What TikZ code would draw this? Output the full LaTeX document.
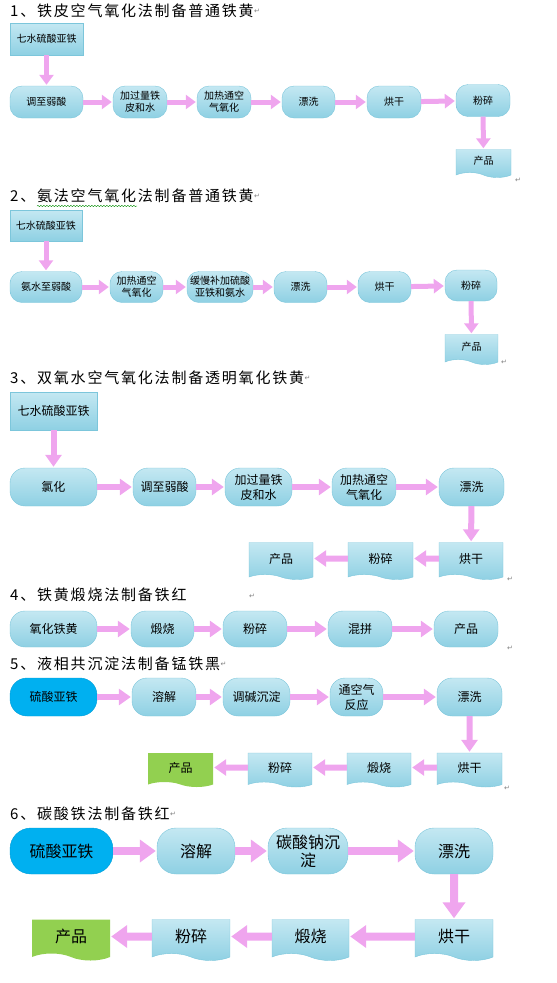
\documentclass[tikz,border=0pt]{standalone}
\usepackage{fontspec}
\newfontfamily\cjk{Noto Sans CJK SC}
\newfontfamily\cjktitle[LetterSpace=12]{Noto Sans CJK SC}
\newfontfamily\symfont{DejaVu Sans}
\usetikzlibrary{arrows.meta,shapes.symbols,decorations.pathmorphing}
\definecolor{boxtop}{HTML}{C4E8F2}
\definecolor{boxbot}{HTML}{8ED0E3}
\definecolor{boxline}{HTML}{7CC6DB}
\definecolor{rawblue}{HTML}{00B0F0}
\definecolor{prodgreen}{HTML}{92D050}
\definecolor{flowpink}{HTML}{EFA5EE}
\tikzset{
  shaded/.style={draw=boxline, top color=boxtop, bottom color=boxbot},
  proc/.style={shaded, rounded corners=12pt, inner sep=0pt, align=center},
  feed/.style={fill=rawblue, draw=rawblue!90!black, rounded corners=12pt, inner sep=0pt, align=center},
  rawbox/.style={shaded, inner sep=0pt, align=center},
  docbox/.style={tape, tape bend top=none, tape bend bottom=out and in, tape bend height=5pt, shaded, inner sep=0pt, align=center},
  prodbox/.style={tape, tape bend top=none, tape bend bottom=out and in, tape bend height=5pt, fill=prodgreen, inner sep=0pt, align=center},
  flow/.style={draw=flowpink, line width=5pt, -{Triangle[width=14pt,length=10pt]}, shorten >=1pt},
  heading/.style={anchor=west, inner sep=0pt, font=\cjktitle\fontsize{15}{18}\selectfont},
  pmark/.style={inner sep=0pt, text=gray, font=\symfont\fontsize{7}{8}\selectfont}
}
\begin{document}
\begin{tikzpicture}[x=1pt,y=-1pt]
\useasboundingbox (0,0) rectangle (557,983);

% 1
\node[heading] (t1) at (10,11) {1、铁皮空气氧化法制备普通铁黄};
\node[pmark, anchor=west] (p1) at (t1.east) {↵};
\begin{scope}[font=\cjk\fontsize{10}{12}\selectfont, nodes={minimum height=32pt}]
\node[rawbox, minimum width=73pt] (s1raw) at (46.5,39) {七水硫酸亚铁};
\node[proc, minimum width=73pt] (s1a) at (46.5,102) {调至弱酸};
\node[proc, minimum width=54pt] (s1b) at (140,102) {加过量铁\\皮和水};
\node[proc, minimum width=54pt] (s1c) at (224,102) {加热通空\\气氧化};
\node[proc, minimum width=53pt] (s1d) at (308.5,102) {漂洗};
\node[proc, minimum width=54pt] (s1e) at (394,102) {烘干};
\node[proc, minimum width=54pt] (s1f) at (483,100.5) {粉碎};
\node[docbox, minimum width=55pt, minimum height=28pt] (s1g) at (483.5,161) {产品};
\draw[flow] (s1raw) -- (s1a);
\draw[flow] (s1a) -- (s1b);
\draw[flow] (s1b) -- (s1c);
\draw[flow] (s1c) -- (s1d);
\draw[flow] (s1d) -- (s1e);
\draw[flow] (s1e) -- (s1f);
\draw[flow] (s1f) -- (s1g);
\end{scope}
\node[pmark] (p1b) at (518,180) {↵};

% 2
\node[heading] (t2) at (10,196) {2、氨法空气氧化法制备普通铁黄};
\node[pmark, anchor=west] (p2) at (t2.east) {↵};
\draw[green!55!black, decorate, decoration={snake, amplitude=0.7pt, segment length=3pt}] (37,206) -- (137,206);
\begin{scope}[font=\cjk\fontsize{10}{12}\selectfont, nodes={minimum height=31pt}]
\node[rawbox, minimum width=72pt] (s2raw) at (46,225.5) {七水硫酸亚铁};
\node[proc, minimum width=72pt] (s2a) at (46,287) {氨水至弱酸};
\node[proc, minimum width=53pt] (s2b) at (136.5,287) {加热通空\\气氧化};
\node[proc, minimum width=66pt] (s2c) at (220,287) {缓慢补加硫酸\\亚铁和氨水};
\node[proc, minimum width=53pt] (s2d) at (300.5,287) {漂洗};
\node[proc, minimum width=53pt] (s2e) at (384.5,287) {烘干};
\node[proc, minimum width=52pt] (s2f) at (471,285.5) {粉碎};
\node[docbox, minimum width=53pt, minimum height=30pt] (s2g) at (471.5,347) {产品};
\draw[flow] (s2raw) -- (s2a);
\draw[flow] (s2a) -- (s2b);
\draw[flow] (s2b) -- (s2c);
\draw[flow] (s2c) -- (s2d);
\draw[flow] (s2d) -- (s2e);
\draw[flow] (s2e) -- (s2f);
\draw[flow] (s2f) -- (s2g);
\end{scope}
\node[pmark] (p2b) at (504,362) {↵};

% 3
\node[heading] (t3) at (10,378) {3、双氧水空气氧化法制备透明氧化铁黄};
\node[pmark, anchor=west] (p3) at (t3.east) {↵};
\begin{scope}[font=\cjk\fontsize{12}{15}\selectfont, nodes={minimum height=38pt},
  proc/.append style={rounded corners=15pt},
  flow/.append style={line width=6pt, -{Triangle[width=16pt,length=12pt]}}]
\node[rawbox, minimum width=87pt] (s3raw) at (53.5,411) {七水硫酸亚铁};
\node[proc, minimum width=87pt] (s3a) at (53.5,487) {氯化};
\node[proc, minimum width=63pt] (s3b) at (164.5,487) {调至弱酸};
\node[proc, minimum width=67pt] (s3c) at (258.5,487) {加过量铁\\皮和水};
\node[proc, minimum width=64pt] (s3d) at (364,487) {加热通空\\气氧化};
\node[proc, minimum width=65pt] (s3e) at (471.5,487) {漂洗};
\node[docbox, minimum width=64pt, minimum height=37pt] (s3f) at (471,558.5) {烘干};
\node[docbox, minimum width=65pt, minimum height=37pt] (s3g) at (380.5,558.5) {粉碎};
\node[docbox, minimum width=64pt, minimum height=37pt] (s3h) at (281,558.5) {产品};
\draw[flow] (s3raw) -- (s3a);
\draw[flow] (s3a) -- (s3b);
\draw[flow] (s3b) -- (s3c);
\draw[flow] (s3c) -- (s3d);
\draw[flow] (s3d) -- (s3e);
\draw[flow] (s3e) -- (s3f);
\draw[flow] (s3f) -- (s3g);
\draw[flow] (s3g) -- (s3h);
\end{scope}
\node[pmark] (p3b) at (510,579) {↵};

% 4
\node[heading] (t4) at (10,595) {4、铁黄煅烧法制备铁红};
\node[pmark] (p4) at (252,596) {↵};
\begin{scope}[font=\cjk\fontsize{12}{15}\selectfont, nodes={minimum height=36pt},
  proc/.append style={rounded corners=15pt},
  flow/.append style={line width=6pt, -{Triangle[width=16pt,length=12pt]}}]
\node[proc, minimum width=87pt] (s4a) at (53.5,629) {氧化铁黄};
\node[proc, minimum width=63pt] (s4b) at (162.5,629) {煅烧};
\node[proc, minimum width=64pt] (s4c) at (255,629) {粉碎};
\node[proc, minimum width=64pt] (s4d) at (360,629) {混拼};
\node[proc, minimum width=64pt] (s4e) at (466,629) {产品};
\draw[flow] (s4a) -- (s4b);
\draw[flow] (s4b) -- (s4c);
\draw[flow] (s4c) -- (s4d);
\draw[flow] (s4d) -- (s4e);
\end{scope}
\node[pmark] (p4b) at (510,648) {↵};

% 5
\node[heading] (t5) at (10,664) {5、液相共沉淀法制备锰铁黑};
\node[pmark, anchor=west] (p5) at (t5.east) {↵};
\begin{scope}[font=\cjk\fontsize{12}{15}\selectfont, nodes={minimum height=38pt},
  proc/.append style={rounded corners=15pt}, feed/.append style={rounded corners=17pt},
  flow/.append style={line width=6pt, -{Triangle[width=16pt,length=12pt]}}]
\node[feed, minimum width=87pt] (s5a) at (53.5,697) {硫酸亚铁};
\node[proc, minimum width=64pt] (s5b) at (164,697) {溶解};
\node[proc, minimum width=67pt] (s5c) at (256.5,697) {调碱沉淀};
\node[proc, minimum width=53pt] (s5d) at (356.5,697) {通空气\\反应};
\node[proc, minimum width=65pt] (s5e) at (469.5,697) {漂洗};
\node[docbox, minimum width=65pt, minimum height=34pt] (s5f) at (469.5,767.5) {烘干};
\node[docbox, minimum width=64pt, minimum height=34pt] (s5g) at (379,767.5) {煅烧};
\node[docbox, minimum width=64pt, minimum height=34pt] (s5h) at (280,767.5) {粉碎};
\node[prodbox, minimum width=65pt, minimum height=34pt] (s5i) at (180.5,767.5) {产品};
\draw[flow] (s5a) -- (s5b);
\draw[flow] (s5b) -- (s5c);
\draw[flow] (s5c) -- (s5d);
\draw[flow] (s5d) -- (s5e);
\draw[flow] (s5e) -- (s5f);
\draw[flow] (s5f) -- (s5g);
\draw[flow] (s5g) -- (s5h);
\draw[flow] (s5h) -- (s5i);
\end{scope}
\node[pmark] (p5b) at (507,788) {↵};

% 6
\node[heading] (t6) at (10,814) {6、碳酸铁法制备铁红};
\node[pmark, anchor=west] (p6) at (t6.east) {↵};
\begin{scope}[font=\cjk\fontsize{16}{18}\selectfont, nodes={minimum height=46pt},
  proc/.append style={rounded corners=19pt}, feed/.append style={rounded corners=21pt},
  docbox/.append style={tape bend height=7pt}, prodbox/.append style={tape bend height=7pt},
  flow/.append style={line width=8pt, -{Triangle[width=22pt,length=16pt]}}]
\node[feed, minimum width=103pt] (s6a) at (61.5,851) {硫酸亚铁};
\node[proc, minimum width=78pt] (s6b) at (196,851) {溶解};
\node[proc, minimum width=80pt] (s6c) at (308,851) {碳酸钠沉\\淀};
\node[proc, minimum width=78pt] (s6d) at (454,851) {漂洗};
\node[docbox, minimum width=78pt, minimum height=41pt] (s6e) at (454,936.5) {烘干};
\node[docbox, minimum width=77pt, minimum height=41pt] (s6f) at (310.5,936.5) {煅烧};
\node[docbox, minimum width=78pt, minimum height=41pt] (s6g) at (191,936.5) {粉碎};
\node[prodbox, minimum width=78pt, minimum height=41pt] (s6h) at (71,936.5) {产品};
\draw[flow] (s6a) -- (s6b);
\draw[flow] (s6b) -- (s6c);
\draw[flow] (s6c) -- (s6d);
\draw[flow] (s6d) -- (s6e);
\draw[flow] (s6e) -- (s6f);
\draw[flow] (s6f) -- (s6g);
\draw[flow] (s6g) -- (s6h);
\end{scope}
\end{tikzpicture}
\end{document}
